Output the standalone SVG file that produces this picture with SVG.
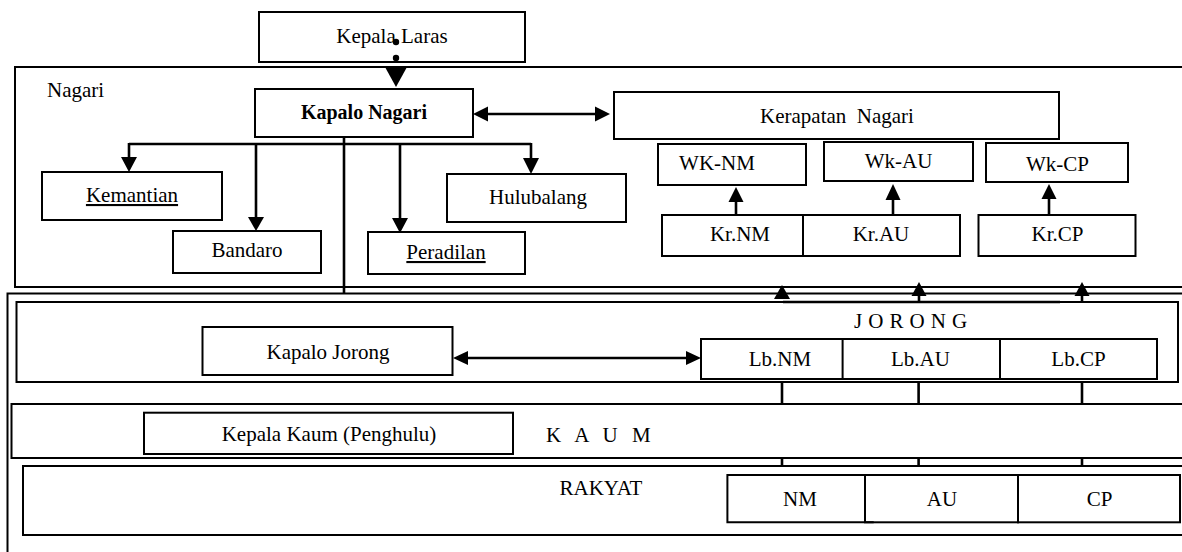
<svg xmlns="http://www.w3.org/2000/svg" width="1182" height="552" viewBox="0 0 1182 552">
  <style>
    .box { fill: none; stroke: #000; stroke-width: 2; }
    .frame { fill: none; stroke: #000; stroke-width: 2; }
    .lbl { font-family: "Liberation Serif", "Times New Roman", serif; font-size: 21px; fill: #000; text-anchor: middle; }
    .start { text-anchor: start; }
    .bold { font-weight: bold; font-size: 20px; }
    .ul { text-decoration: underline; }
    .wire { fill: none; stroke: #000; stroke-width: 2.6; }
    .head { fill: #000; stroke: none; }
  </style>

  <rect width="1182" height="552" fill="#fff"/>

  <!-- Level frames -->
  <g id="frames">
    <rect id="frame-nagari" class="frame" x="15" y="67" width="1190" height="220"/>
    <rect id="frame-outer" class="frame" x="7.5" y="293.5" width="1195" height="300"/>
    <rect id="frame-jorong" class="frame" x="16.5" y="302" width="1161.5" height="80"/>
    <rect id="frame-kaum" class="frame" x="11.5" y="404" width="1195" height="54"/>
    <rect id="frame-rakyat" class="frame" x="23" y="466" width="1185" height="69"/>
    <text class="lbl start" x="47" y="97">Nagari</text>
    <text class="lbl start" x="854" y="328" letter-spacing="0.4">J O R O N G</text>
    <text class="lbl start" x="546" y="442" letter-spacing="4.5">K A U M</text>
    <text class="lbl start" x="559.5" y="495">RAKYAT</text>
  </g>

  <!-- Connectors -->
  <g id="connectors">
    <!-- Kepala Laras to Kapalo Nagari -->
    <circle class="head" cx="396" cy="42" r="3.2"/>
    <circle class="head" cx="396" cy="58" r="3.2"/>
    <polygon class="head" points="385,67 407,67 396,87"/>

    <!-- Kapalo Nagari <-> Kerapatan Nagari -->
    <line class="wire" x1="486" y1="114" x2="597" y2="114"/>
    <polygon class="head" points="473,114 488,106.5 488,121.5"/>
    <polygon class="head" points="610,114 595,106.5 595,121.5"/>

    <!-- Kapalo Nagari to its officials -->
    <line class="wire" x1="129" y1="144" x2="531" y2="144"/>
    <line class="wire" x1="129" y1="143" x2="129" y2="158"/>
    <polygon class="head" points="121,157 137,157 129,172"/>
    <line class="wire" x1="256" y1="143" x2="256" y2="218"/>
    <polygon class="head" points="248,217 264,217 256,231"/>
    <line class="wire" x1="400" y1="144" x2="400" y2="219"/>
    <polygon class="head" points="392,218 408,218 400,233"/>
    <line class="wire" x1="531" y1="143" x2="531" y2="159"/>
    <polygon class="head" points="523,158 539,158 531,174"/>
    <line class="wire" x1="344" y1="137" x2="344" y2="293"/>

    <!-- Kr to Wk -->
    <line class="wire" x1="736" y1="215" x2="736" y2="201"/>
    <polygon class="head" points="728.5,202 743.5,202 736,187"/>
    <line class="wire" x1="893" y1="215" x2="893" y2="199"/>
    <polygon class="head" points="885.5,200 900.5,200 893,184"/>
    <line class="wire" x1="1049" y1="215" x2="1049" y2="198"/>
    <polygon class="head" points="1041.5,199 1056.5,199 1049,184"/>

    <!-- Jorong up to Kerapatan -->
    <line class="wire" x1="783" y1="302" x2="1060" y2="302"/>
    <polygon class="head" points="774,299 790,299 782,285"/>
    <line class="wire" x1="919" y1="295" x2="919" y2="302"/>
    <polygon class="head" points="911.5,296 926.5,296 919,282"/>
    <line class="wire" x1="1082" y1="295" x2="1082" y2="302"/>
    <polygon class="head" points="1074.5,296 1089.5,296 1082,282"/>

    <!-- Kapalo Jorong <-> Lb.NM -->
    <line class="wire" x1="466" y1="358" x2="688" y2="358"/>
    <polygon class="head" points="453,358 468,351 468,365"/>
    <polygon class="head" points="701,358 686,351 686,365"/>

    <!-- Lb down through Kaum to Rakyat -->
    <line class="wire" x1="782" y1="382" x2="782" y2="404"/>
    <line class="wire" x1="918.6" y1="382" x2="918.6" y2="404"/>
    <line class="wire" x1="1082" y1="382" x2="1082" y2="404"/>
    <line class="wire" x1="782" y1="458" x2="782" y2="466"/>
    <line class="wire" x1="918.6" y1="458" x2="918.6" y2="466"/>
    <line class="wire" x1="1082" y1="458" x2="1082" y2="466"/>
  </g>

  <!-- Nodes -->
  <g id="kepala-laras"><rect class="box" x="259" y="12" width="266" height="50"/><text class="lbl" x="392" y="43">Kepala Laras</text></g>
  <g id="kapalo-nagari"><rect class="box" x="255" y="89" width="218" height="48"/><text class="lbl bold" x="364" y="119">Kapalo Nagari</text></g>
  <g id="kerapatan-nagari"><rect class="box" x="614" y="92" width="445" height="47"/><text class="lbl" x="837" y="123" xml:space="preserve">Kerapatan  Nagari</text></g>
  <g id="kemantian"><rect class="box" x="42" y="172" width="180" height="48"/><text class="lbl ul" x="132" y="202">Kemantian</text></g>
  <g id="bandaro"><rect class="box" x="173" y="231" width="148" height="42"/><text class="lbl" x="247" y="257">Bandaro</text></g>
  <g id="peradilan"><rect class="box" x="368" y="232" width="157" height="42"/><text class="lbl ul" x="446" y="259">Peradilan</text></g>
  <g id="hulubalang"><rect class="box" x="447" y="174" width="179" height="48"/><text class="lbl" x="538" y="204">Hulubalang</text></g>
  <g id="wk-nm"><rect class="box" x="658" y="144" width="148" height="41"/><text class="lbl" x="717" y="170">WK-NM</text></g>
  <g id="wk-au"><rect class="box" x="824" y="142" width="149" height="39"/><text class="lbl" x="898.5" y="168">Wk-AU</text></g>
  <g id="wk-cp"><rect class="box" x="986" y="143" width="142" height="39"/><text class="lbl" x="1057.5" y="171">Wk-CP</text></g>
  <!-- the NM cells share their right edge with the neighbouring AU cell -->
  <g id="kr-nm"><path class="box" d="M819,215 H662 V256 H819"/><text class="lbl" x="740" y="241">Kr.NM</text></g>
  <g id="kr-au"><rect class="box" x="803" y="215" width="157" height="41"/><text class="lbl" x="881" y="241">Kr.AU</text></g>
  <g id="kr-cp"><rect class="box" x="978.5" y="215" width="157" height="41"/><text class="lbl" x="1057.5" y="241">Kr.CP</text></g>
  <g id="kapalo-jorong"><rect class="box" x="202.5" y="327" width="250" height="48"/><text class="lbl" x="328" y="359">Kapalo Jorong</text></g>
  <g id="lb-nm"><path class="box" d="M859,339 H701 V379 H859"/><text class="lbl" x="780" y="366">Lb.NM</text></g>
  <g id="lb-au"><rect class="box" x="842.6" y="339" width="157.4" height="40"/><text class="lbl" x="920.5" y="366">Lb.AU</text></g>
  <g id="lb-cp"><rect class="box" x="1000" y="339" width="157" height="40"/><text class="lbl" x="1078.5" y="366">Lb.CP</text></g>
  <g id="kepala-kaum"><rect class="box" x="144" y="412.7" width="369" height="41.3"/><text class="lbl" x="329" y="441">Kepala Kaum (Penghulu)</text></g>
  <g id="rakyat-nm"><path class="box" d="M873.7,475 H727.4 V522.3 H873.7"/><text class="lbl" x="800" y="506">NM</text></g>
  <g id="rakyat-au"><rect class="box" x="865" y="475" width="153" height="47.3"/><text class="lbl" x="942" y="506">AU</text></g>
  <g id="rakyat-cp"><rect class="box" x="1018" y="475" width="162" height="47.3"/><text class="lbl" x="1099.5" y="506">CP</text></g>
</svg>
